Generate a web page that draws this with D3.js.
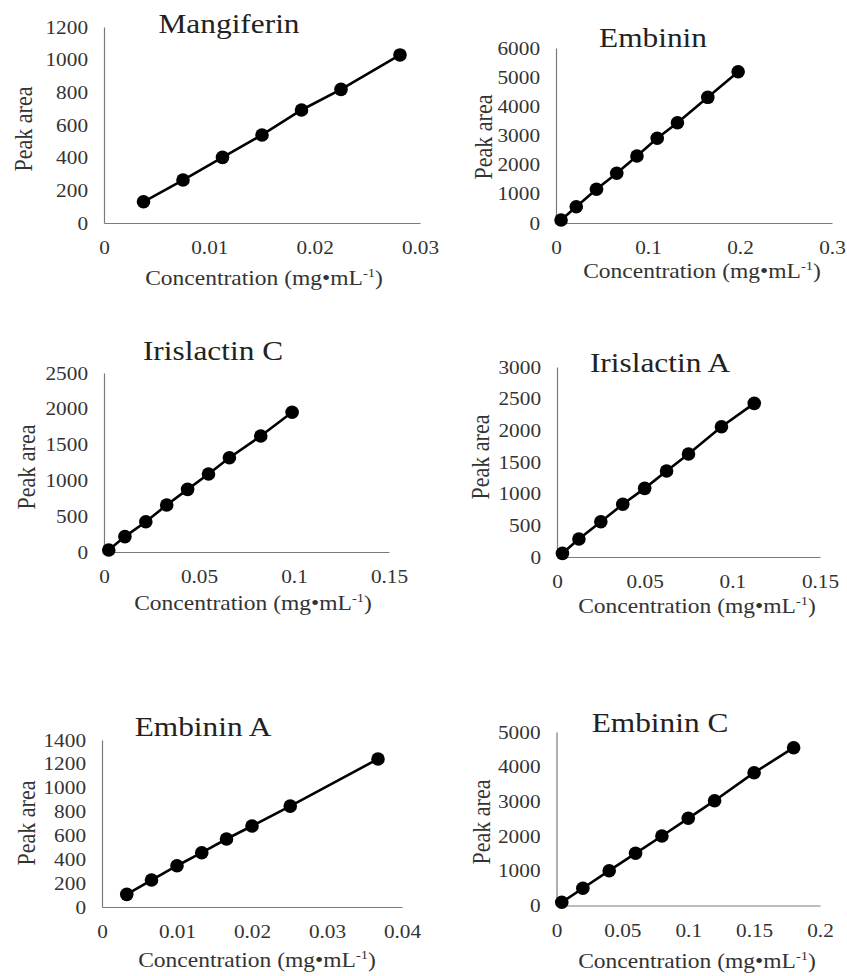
<!DOCTYPE html>
<html>
<head>
<meta charset="utf-8">
<script src="https://cdn.jsdelivr.net/npm/d3@7"></script>
<style>
  body { margin: 0; background: #fff; }
</style>
</head>
<body>
<svg id="chart" width="847" height="976" font-family="'Liberation Serif', 'Times New Roman', serif"></svg>
<script>
//compound names, one per panel
const titles = ["Mangiferin", "Embinin", "Irislactin C", "Irislactin A", "Embinin A", "Embinin C"];

//concentration (mg/mL) and peak area
const concMangiferin = [0.00375, 0.0075, 0.01125, 0.015, 0.01875, 0.0225, 0.0281];
const areaMangiferin = [130, 263, 402, 539, 692, 818, 1029];
const concEmbinin = [0.0055, 0.022, 0.044, 0.066, 0.088, 0.11, 0.132, 0.165, 0.198];
const areaEmbinin = [103, 559, 1155, 1704, 2297, 2904, 3439, 4309, 5187];
const concIrislactinC = [0.0025, 0.011, 0.022, 0.033, 0.044, 0.055, 0.066, 0.0825, 0.099];
const areaIrislactinC = [28, 215, 423, 656, 875, 1089, 1317, 1620, 1951];
const concIrislactinA = [0.0031, 0.0125, 0.025, 0.0375, 0.05, 0.0625, 0.075, 0.0938, 0.1125];
const areaIrislactinA = [58, 284, 557, 832, 1084, 1357, 1626, 2057, 2426];
const concEmbininA = [0.0033, 0.0066, 0.01, 0.0133, 0.0166, 0.02, 0.0251, 0.0368];
const areaEmbininA = [106, 226, 346, 455, 570, 679, 846, 1241];
const concEmbininC = [0.004, 0.02, 0.04, 0.06, 0.08, 0.1, 0.12, 0.15, 0.18];
const areaEmbininC = [92, 496, 1003, 1504, 2003, 2513, 3020, 3827, 4548];

//axis extents and tick steps
const xMax = [0.03, 0.3, 0.15, 0.15, 0.04, 0.2];
const xStep = [0.01, 0.1, 0.05, 0.05, 0.01, 0.05];
const yMax = [1200, 6000, 2500, 3000, 1400, 5000];
const yStep = [200, 1000, 500, 500, 200, 1000];

const xLabel = "Concentration (mg\u2022mL";
const yLabel = "Peak area";

const concs = [concMangiferin, concEmbinin, concIrislactinC, concIrislactinA, concEmbininA, concEmbininC];
const areas = [areaMangiferin, areaEmbinin, areaIrislactinC, areaIrislactinA, areaEmbininA, areaEmbininC];

//panel placement: plot box, title, axis label positions
const layout = [
    { left: 104, right: 420, top: 27, bottom: 223, title: [229, 33], xl: [264, 285], yl: [24, 129] },
    { left: 556, right: 832, top: 48, bottom: 223, title: [653, 47], xl: [702, 278], yl: [484, 137] },
    { left: 104, right: 389, top: 373, bottom: 552, title: [213, 360], xl: [253, 610], yl: [27, 467] },
    { left: 557, right: 820, top: 367, bottom: 557, title: [660, 372], xl: [697, 613], yl: [481, 457] },
    { left: 102, right: 402, top: 740, bottom: 907, title: [203, 736], xl: [257, 967], yl: [27, 823] },
    { left: 556.5, right: 820, top: 732, bottom: 905.5, title: [660, 732], xl: [697, 968], yl: [482, 822] }
];

//the original figure is slightly stretched sideways
const SX = 1.12;
const FONT = "'Liberation Serif', 'Times New Roman', serif";
const fmt = d3.format("~g");
const svg = d3.select("#chart");

titles.forEach((name, i) => {
    const L = layout[i];
    const g = svg.append("g");

    const x = d3.scaleLinear().domain([0, xMax[i]]).range([L.left, L.right]);
    const y = d3.scaleLinear().domain([0, yMax[i]]).range([L.bottom, L.top]);

    const xTicks = d3.range(0, xMax[i] + xStep[i] / 2, xStep[i]);
    const yTicks = d3.range(0, yMax[i] + yStep[i] / 2, yStep[i]);

    //x axis with labels below
    const xa = g.append("g")
        .attr("transform", `translate(0,${L.bottom})`)
        .call(d3.axisBottom(x).tickValues(xTicks).tickSize(0).tickPadding(18).tickFormat(fmt))
        .attr("font-family", FONT);
    xa.select(".domain").attr("stroke", "#7a7a7a").attr("stroke-width", 1.2);
    xa.selectAll("text")
        .attr("font-size", 19)
        .attr("fill", "#333")
        .attr("transform", `scale(${SX},1)`);

    //y axis
    const ya = g.append("g")
        .attr("transform", `translate(${L.left},0)`)
        .call(d3.axisLeft(y).tickValues(yTicks).tickSize(0).tickPadding(16).tickFormat(fmt))
        .attr("font-family", FONT);
    ya.select(".domain").attr("stroke", "#7a7a7a").attr("stroke-width", 1.2);
    ya.selectAll("text")
        .attr("font-size", 19)
        .attr("fill", "#333")
        .attr("x", -16 / SX)
        .attr("transform", `scale(${SX},1)`);

    //regression line through points
    const pts = concs[i].map((c, k) => ({ c: c, a: areas[i][k] }));
    g.append("path")
        .datum(pts)
        .attr("fill", "none")
        .attr("stroke", "#000")
        .attr("stroke-width", 2.6)
        .attr("d", d3.line().x(d => x(d.c)).y(d => y(d.a)));

    g.selectAll("circle")
        .data(pts)
        .join("circle")
        .attr("cx", d => x(d.c))
        .attr("cy", d => y(d.a))
        .attr("r", 6.8)
        .attr("fill", "#000");

    //title
    g.append("text")
        .attr("transform", `translate(${L.title[0]},${L.title[1]}) scale(${SX},1)`)
        .attr("text-anchor", "middle")
        .attr("font-family", FONT)
        .attr("font-size", 28)
        .attr("fill", "#222")
        .text(name);

    //x axis label with superscript -1
    const xt = g.append("text")
        .attr("transform", `translate(${L.xl[0]},${L.xl[1]}) scale(${SX},1)`)
        .attr("text-anchor", "middle")
        .attr("font-family", FONT)
        .attr("font-size", 21)
        .attr("fill", "#333");
    xt.append("tspan").text(xLabel);
    xt.append("tspan").attr("font-size", 13).attr("dy", -8).text("-1");
    xt.append("tspan").attr("dy", 8).text(")");

    //y axis label
    g.append("text")
        .attr("transform", `translate(${L.yl[0]},${L.yl[1]}) rotate(-90) scale(1,${SX})`)
        .attr("text-anchor", "middle")
        .attr("dominant-baseline", "central")
        .attr("font-family", FONT)
        .attr("font-size", 22)
        .attr("fill", "#333")
        .text(yLabel);
});
</script>
</body>
</html>
